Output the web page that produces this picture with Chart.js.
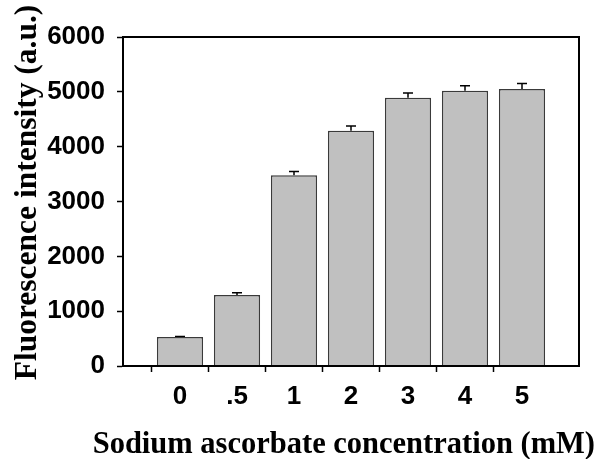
<!DOCTYPE html>
<html>
<head>
<meta charset="utf-8">
<script src="https://cdn.jsdelivr.net/npm/chart.js@4/dist/chart.umd.min.js"></script>
<style>
  html, body { margin: 0; padding: 0; background: #fff; }
  #wrap { width: 609px; height: 459px; }
</style>
</head>
<body>
<div id="wrap"><canvas id="chart"></canvas></div>
<script>
// concentrations (mM) as printed on the axis
const categories = ['0', '.5', '1', '2', '3', '4', '5'];
// fluorescence intensity (a.u.)
const intensity = [530, 1295, 3480, 4290, 4890, 5020, 5050];
// upper error (a.u.)
const errors = [8, 40, 65, 85, 90, 90, 100];
const yTicks = [0, 1000, 2000, 3000, 4000, 5000, 6000];
const xTitle = 'Sodium ascorbate concentration (mM)';
const yTitle = 'Fluorescence intensity (a.u.)';

// one empty slot on each side, like the original plot
const labels = ['', ...categories, ''];
const values = [null, ...intensity, null];
const errs = [null, ...errors, null];

const sansBold = { family: '"Liberation Sans", Arial, sans-serif', size: 26, weight: 'bold' };
const serifFamily = '"Liberation Serif", "Times New Roman", serif';

// error bars: only the part above the bar shows, so draw before the bars
const errorBars = {
  id: 'errorBars',
  beforeDatasetsDraw(chart) {
    const { ctx, scales: { x, y } } = chart;
    ctx.save();
    ctx.strokeStyle = '#000';
    ctx.lineWidth = 1.5;
    values.forEach((v, i) => {
      if (v == null) return;
      const px = x.getPixelForValue(i);
      const top = y.getPixelForValue(v + errs[i]);
      const base = y.getPixelForValue(v);
      ctx.beginPath();
      ctx.moveTo(px, base);
      ctx.lineTo(px, top);
      ctx.moveTo(px - 5, top);
      ctx.lineTo(px + 5, top);
      ctx.stroke();
    });
    ctx.restore();
  }
};

// closed frame round the plot area + axis titles (x title is wider than the plot)
const frame = {
  id: 'frame',
  afterDraw(chart) {
    const { ctx, chartArea: a } = chart;
    ctx.save();
    ctx.strokeStyle = '#000';
    ctx.lineWidth = 2;
    ctx.strokeRect(a.left, a.top, a.right - a.left, a.bottom - a.top);
    ctx.fillStyle = '#000';
    ctx.textBaseline = 'alphabetic';
    ctx.font = 'bold 30.5px ' + serifFamily;
    ctx.textAlign = 'right';
    ctx.fillText(xTitle, chart.width - 14, chart.height - 6);
    ctx.translate(36, (a.top + a.bottom) / 2 - 9);
    ctx.rotate(-Math.PI / 2);
    ctx.font = 'bold 31.5px ' + serifFamily;
    ctx.textAlign = 'center';
    ctx.fillText(yTitle, 0, 0);
    ctx.restore();
  }
};

new Chart(document.getElementById('chart'), {
  type: 'bar',
  data: {
    labels,
    datasets: [{
      data: values,
      backgroundColor: '#c0c0c0',
      borderColor: '#3a3a3a',
      borderWidth: 1.5,
      borderSkipped: 'bottom',
      categoryPercentage: 1,
      barPercentage: 0.81
    }]
  },
  options: {
    responsive: true,
    maintainAspectRatio: false,
    animation: false,
    events: [],
    layout: { padding: { top: 37, right: 30, left: 0, bottom: 0 } },
    plugins: {
      legend: { display: false },
      tooltip: { enabled: false }
    },
    scales: {
      x: {
        offset: false,
        afterFit: (scale) => { scale.height = 93; },
        grid: {
          drawOnChartArea: false,
          tickLength: 6,
          tickWidth: 1.5,
          tickColor: (ctx) => (ctx.index === 0 || ctx.index === labels.length - 1) ? 'rgba(0,0,0,0)' : '#000'
        },
        border: { color: '#000', width: 2 },
        ticks: { color: '#000', font: sansBold, padding: 9, maxRotation: 0, autoSkip: false }
      },
      y: {
        min: 0,
        max: 6000,
        afterFit: (scale) => { scale.width = 123; },
        afterBuildTicks: (scale) => { scale.ticks = yTicks.map(v => ({ value: v })); },
        grid: { drawOnChartArea: false, tickLength: 6, tickWidth: 1.5, tickColor: '#000' },
        border: { color: '#000', width: 2 },
        ticks: { color: '#000', font: sansBold, padding: 12, callback: (v) => String(v) }
      }
    }
  },
  plugins: [errorBars, frame]
});
</script>
</body>
</html>
